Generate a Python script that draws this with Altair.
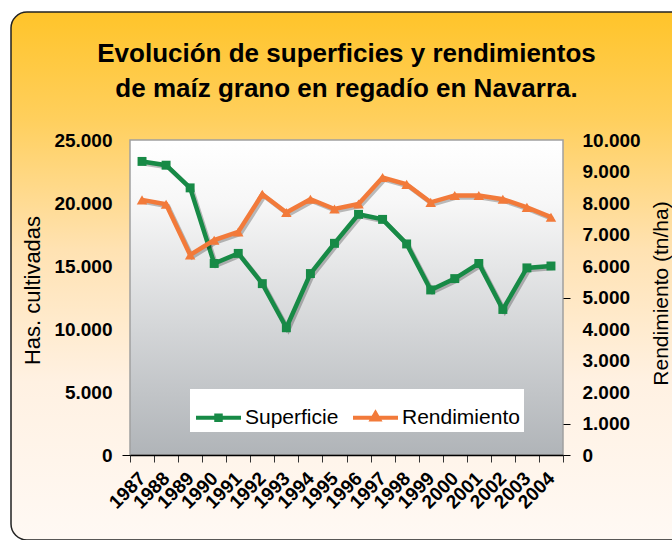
import altair as alt
import pandas as pd

years = [str(y) for y in range(1987, 2005)]
superficie = [23300, 23000, 21200, 15200, 16000, 13600, 10100, 14400, 16800,
              19100, 18700, 16750, 13100, 14000, 15200, 11550, 14850, 15000]
rendimiento = [8100, 7960, 6350, 6820, 7080, 8280, 7700, 8120, 7810,
               7970, 8810, 8590, 8020, 8240, 8240, 8120, 7860, 7550]
series = ["Superficie", "Rendimiento"]
colors = ["#178A46", "#F27A3A"]
left_ticks = [0, 5000, 10000, 15000, 20000, 25000]
right_ticks = [0, 1000, 2000, 3000, 4000, 5000, 6000, 7000, 8000, 9000, 10000]
title_lines = ["Evolución de superficies y rendimientos",
               "de maíz grano en regadío en Navarra."]

W, H = 433, 315
FONT = "Liberation Sans"

df_sup = pd.DataFrame({"year": years, "value": superficie, "serie": series[0]})
df_ren = pd.DataFrame({"year": years, "value": rendimiento, "serie": series[1]})
df_all = pd.concat([df_sup, df_ren], ignore_index=True)
one = pd.DataFrame({"a": [0]})

lab_expr = "replace(format(datum.value, ',d'), ',', '.')"

x_enc = alt.X(
    "year:O",
    bandPosition=0.5,
    scale=alt.Scale(type="band", paddingInner=0, paddingOuter=0),
    axis=alt.Axis(
        title=None, labelAngle=315, labelAlign="right", labelBaseline="middle",
        labelFont=FONT, labelFontWeight="bold", labelFontSize=19, labelColor="black",
        labelPadding=13, labelOverlap=False, tickBand="extent", tickSize=7,
        tickColor="#333", tickWidth=1, domainColor="black", domainWidth=1.5,
        zindex=1,
    ),
)

y_left = alt.Y(
    "value:Q",
    scale=alt.Scale(domain=[0, 25000], nice=False),
    axis=alt.Axis(
        orient="left", values=left_ticks, labelExpr=lab_expr, grid=False, domain=False,
        labelFont=FONT, labelFontWeight="bold", labelFontSize=19, labelColor="black",
        tickSize=8, labelPadding=10,
        tickColor={"condition": {"test": "datum.value === 0", "value": "black"}, "value": "transparent"},
        title="Has. cultivadas", titleFont=FONT, titleFontWeight="normal", titleFontSize=22,
        titleColor="black", titleAngle=270, titleAlign="center", titleBaseline="middle",
        titleX=-98, titleY=150, zindex=1,
    ),
)

y_right = alt.Y(
    "value:Q",
    scale=alt.Scale(domain=[0, 10000], nice=False),
    axis=alt.Axis(
        orient="right", values=right_ticks, labelExpr=lab_expr, grid=False, domain=False,
        labelFont=FONT, labelFontWeight="bold", labelFontSize=19, labelColor="black",
        tickSize=7, labelPadding=12,
        tickColor={"condition": {"test": "datum.value === 0 || datum.value === 1000 || datum.value === 5000",
                                 "value": "black"}, "value": "transparent"},
        title="Rendimiento (tn/ha)", titleFont=FONT, titleFontWeight="normal", titleFontSize=21,
        titleColor="black", titleAngle=270, titleAlign="center", titleBaseline="middle",
        titleX=98, titleY=153, zindex=1,
    ),
)

outer_grad = alt.LinearGradient(
    gradient="linear", x1=0, x2=0, y1=0, y2=1,
    stops=[alt.GradientStop(color="#FFC42A", offset=0),
           alt.GradientStop(color="#FFCF5C", offset=0.2),
           alt.GradientStop(color="#FFE2B2", offset=0.45),
           alt.GradientStop(color="#FFF1E2", offset=0.7),
           alt.GradientStop(color="#FFF9F4", offset=1)],
)
plot_grad = alt.LinearGradient(
    gradient="linear", x1=0, x2=0, y1=0, y2=1,
    stops=[alt.GradientStop(color="#FFFFFF", offset=0),
           alt.GradientStop(color="#F7F7F7", offset=0.2),
           alt.GradientStop(color="#B0B4B8", offset=1)],
)

outer_bg = alt.Chart(one).mark_rect(
    fill=outer_grad, stroke="#222222", strokeWidth=1.5, cornerRadius=16
).encode(x=alt.value(-119), x2=alt.value(560), y=alt.value(-128), y2=alt.value(400))

plot_bg = alt.Chart(one).mark_rect(
    fill=plot_grad, stroke="#A0A0A0", strokeWidth=1.5
).encode(x=alt.value(0), x2=alt.value(W), y=alt.value(0), y2=alt.value(H))

sup_shadow = alt.Chart(df_sup).mark_line(
    color="#000000", opacity=0.25, strokeWidth=4.5, xOffset=2, yOffset=2
).encode(x=x_enc, y=y_left)
sup_line = alt.Chart(df_sup).mark_line(color=colors[0], strokeWidth=4.5).encode(x=x_enc, y=y_left)
sup_pts = alt.Chart(df_sup).mark_point(
    shape="square", filled=True, color=colors[0], size=80, opacity=1
).encode(x=x_enc, y=y_left)

ren_shadow = alt.Chart(df_ren).mark_line(
    color="#000000", opacity=0.25, strokeWidth=4.5, xOffset=2, yOffset=2
).encode(x=x_enc, y=y_right)
ren_line = alt.Chart(df_ren).mark_line(color=colors[1], strokeWidth=4.5).encode(x=x_enc, y=y_right)
ren_pts = alt.Chart(df_ren).mark_point(
    shape="triangle-up", filled=True, color=colors[1], size=110, opacity=1
).encode(x=x_enc, y=y_right)

sym_paths = ["M-1,0H1M-0.1,-0.1H0.1V0.1H-0.1Z", "M-1,0H1M-0.16,0.08L0,-0.2L0.16,0.08Z"]
leg = alt.Legend(
    title=None, orient="none", legendX=60, legendY=249, direction="horizontal",
    fillColor="white", padding=4, symbolSize=2025, symbolStrokeWidth=4,
    labelFont=FONT, labelFontSize=21, labelColor="black", labelOffset=2,
    columnPadding=6, zindex=1, symbolOpacity=1,
)
legend_layer = alt.Chart(df_all).transform_filter("false").mark_point(
    filled=True, opacity=1
).encode(
    shape=alt.Shape("serie:N", scale=alt.Scale(domain=series, range=sym_paths), legend=leg),
    fill=alt.Fill("serie:N", scale=alt.Scale(domain=series, range=colors), legend=leg),
    stroke=alt.Stroke("serie:N", scale=alt.Scale(domain=series, range=colors), legend=leg),
)

sup_layer = alt.layer(sup_shadow, sup_line, sup_pts)
ren_layer = alt.layer(ren_shadow, ren_line, ren_pts)

chart = alt.layer(outer_bg, plot_bg, sup_layer, ren_layer, legend_layer).resolve_scale(
    y="independent"
).properties(
    width=W, height=H,
    autosize=alt.AutoSizeParams(type="none"),
    padding={"left": 130, "top": 140, "right": 109, "bottom": 85},
    background="white",
    title=alt.TitleParams(
        title_lines, font=FONT, fontSize=26, fontWeight="bold",
        lineHeight=35, anchor="middle", frame="group", offset=0, dy=91,
        color="black", zindex=1,
    ),
).configure_view(stroke=None)

chart.save("out.html", embed_options={"renderer": "svg", "actions": False})
